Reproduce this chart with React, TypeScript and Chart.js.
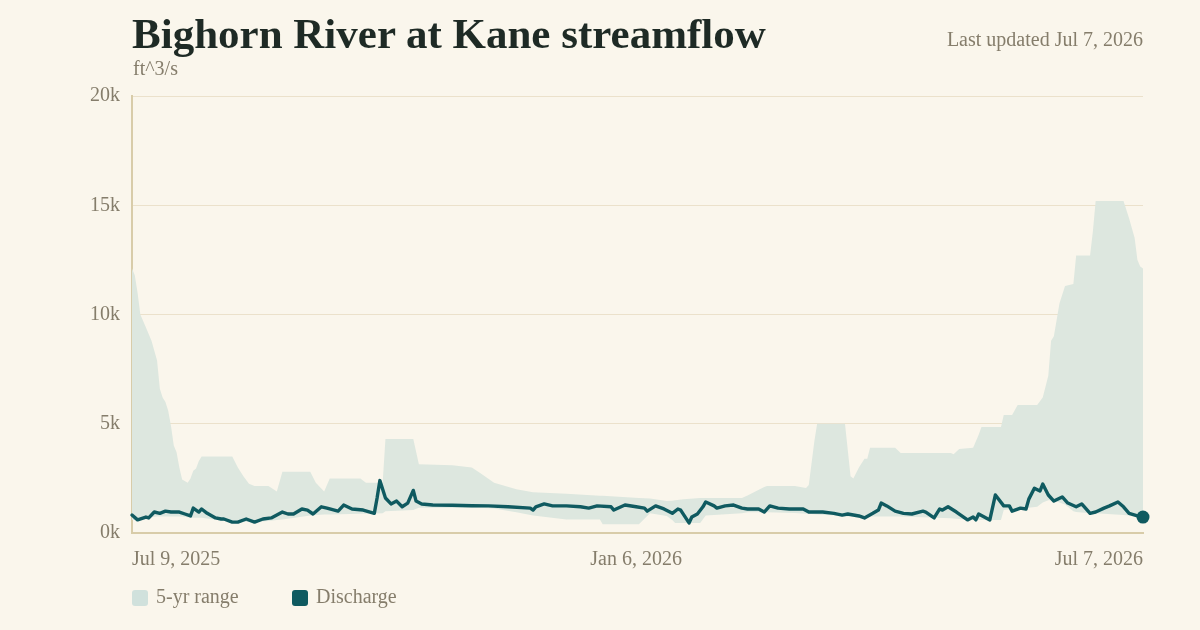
import { useEffect, useRef } from 'react';
import { Chart, registerables } from 'chart.js';

Chart.register(...registerables);

// Day 0 of the x axis
const START_UTC = Date.UTC(2025, 6, 9);
const MONTHS = ['Jan', 'Feb', 'Mar', 'Apr', 'May', 'Jun', 'Jul', 'Aug', 'Sep', 'Oct', 'Nov', 'Dec'];

// 5-year range envelope (days since Jul 9, 2025; ft^3/s)
const rangeDays = [
  0, 1, 2, 3, 5, 7, 9, 10, 11, 12, 13, 14, 15, 16, 17, 18, 20, 21, 22, 23, 24, 25,
  36, 38, 40, 42, 44, 49, 52, 54, 64, 66, 69, 70, 71, 82, 84, 90, 91, 101, 103,
  115, 122, 125, 130, 138, 144, 156, 168, 169, 182, 186, 192, 194, 195, 198, 204,
  206, 219, 221, 227, 228, 238, 242, 243, 245, 246, 256, 257, 258, 259, 261, 263,
  264, 265, 274, 276, 294, 295, 297, 302, 304, 305, 312, 313, 316, 318, 325, 327,
  329, 330, 331, 333, 335, 338, 339, 344, 345, 346, 356, 358, 360, 361, 362, 363,
];
const rangeHigh = [
  12100, 11800, 11000, 10000, 9400, 8800, 7900, 6600, 6200, 6000, 5600, 4900, 4000, 3700, 3000, 2450, 2300, 2500, 2850, 2950, 3300, 3500,
  3500, 3000, 2600, 2250, 2150, 2150, 1900, 2800, 2800, 2300, 1900, 2200, 2500, 2500, 2300, 2300, 4300, 4300, 3150,
  3100, 3000, 2750, 2300, 2000, 1870, 1800, 1700, 1700, 1600, 1580, 1460, 1480, 1500, 1550, 1600,
  1600, 1600, 1720, 2100, 2150, 2150, 2060, 2200, 4200, 5000, 5000, 3800, 2600, 2500, 3000, 3400,
  3400, 3900, 3900, 3660, 3660, 3600, 3850, 3900, 4500, 4850, 4850, 5400, 5400, 5860, 5860, 6200,
  7200, 8800, 9000, 10500, 11300, 11400, 12700, 12700, 13800, 15200, 15200, 14400, 13500, 12500, 12200, 12100,
];
const rangeLow = [
  600, 600, 600, 620, 700, 720, 750, 750, 750, 750, 750, 750, 750, 750, 750, 750, 720, 700, 700, 700, 700, 700,
  500, 500, 500, 500, 500, 550, 600, 620, 800, 820, 850, 850, 850, 880, 880, 900, 1000, 1050, 1150,
  1150, 1150, 1150, 1120, 950, 800, 620, 620, 400, 400, 900, 780, 600, 460, 460, 460,
  800, 900, 950, 950, 950, 920, 880, 880, 860, 850, 780, 750, 750, 750, 750, 750,
  750, 750, 750, 760, 680, 660, 640, 600, 600, 600, 600, 1050, 1100, 1100, 1200, 1400,
  1500, 1500, 1500, 1400, 1300, 1000, 960, 900, 900, 900, 820, 800, 780, 760, 740, 730,
];

// Daily discharge readings (days since Jul 9, 2025; ft^3/s)
const flowDays = [
  0, 2, 5, 6, 8, 10, 12, 14, 17, 19, 21, 22, 24, 25, 27, 30, 32, 33, 36, 38, 41, 44, 47, 50,
  54, 56, 58, 61, 63, 65, 68, 70, 74, 76, 79, 83, 87, 88, 89, 91, 93, 95, 97, 99, 101, 102,
  104, 108, 115, 122, 128, 135, 143, 144, 145, 148, 151, 156, 161, 164, 167, 172, 173, 177,
  181, 184, 185, 188, 191, 194, 196, 197, 200, 201, 203, 205, 206, 209, 210, 213, 216, 219,
  221, 225, 227, 229, 232, 236, 241, 243, 248, 252, 255, 257, 261, 263, 266, 268, 269, 271,
  274, 277, 280, 284, 285, 288, 290, 291, 293, 296, 300, 302, 303, 304, 308, 310, 313, 315,
  316, 319, 321, 322, 324, 326, 327, 329, 331, 334, 336, 339, 341, 344, 346, 349, 351, 354,
  356, 358, 361, 363,
];
const flowCfs = [
  820, 600, 730, 690, 960, 900, 1000, 960, 960, 870, 780, 1140, 960, 1100, 900, 690, 640, 640, 500, 500, 640, 500, 640, 690,
  960, 870, 870, 1100, 1050, 870, 1200, 1140, 1000, 1280, 1100, 1050, 900, 1600, 2400, 1600, 1330, 1460, 1200, 1370, 1950, 1460,
  1330, 1280, 1270, 1250, 1240, 1200, 1140, 1050, 1200, 1330, 1240, 1240, 1200, 1140, 1240, 1200, 1050, 1280,
  1200, 1140, 1000, 1240, 1100, 900, 1100, 1050, 460, 730, 870, 1200, 1420, 1240, 1140, 1240, 1280, 1140,
  1100, 1100, 960, 1240, 1140, 1100, 1100, 960, 960, 900, 820, 870, 780, 690, 900, 1050, 1370, 1240,
  1000, 900, 870, 1000, 960, 690, 1100, 1050, 1200, 960, 600, 730, 600, 870, 600, 1740, 1240, 1240,
  1000, 1140, 1100, 1550, 2050, 1920, 2240, 1740, 1460, 1650, 1370, 1200, 1330, 900, 960, 1140, 1240, 1420,
  1200, 900, 780, 730,
];

const xTickDays = [0, 181, 363];
const yTickValues = [0, 5000, 10000, 15000, 20000];

const BG = '#faf6ec';
const INK = '#1e2a25';
const MUTED = '#857d6b';
const GRID = '#ebe1cb';
const AXIS = '#d8cca9';
const BAND = '#dde7df';
const BAND_KEY = '#d0e1dc';
const FLOW = '#0f5a60';
const SERIF = "'Liberation Serif', 'DejaVu Serif', serif";

function formatDay(day: number): string {
  const d = new Date(START_UTC + day * 86400000);
  return `${MONTHS[d.getUTCMonth()]} ${d.getUTCDate()}, ${d.getUTCFullYear()}`;
}

export default function App() {
  const canvasRef = useRef<HTMLCanvasElement>(null);

  useEffect(() => {
    document.body.style.margin = '0';
    const canvas = canvasRef.current;
    if (!canvas) return;

    const lastIndex = flowDays.length - 1;
    const chart = new Chart(canvas, {
      type: 'line',
      data: {
        datasets: [
          {
            label: 'Discharge',
            data: flowDays.map((d, i) => ({ x: d, y: flowCfs[i] })),
            borderColor: FLOW,
            borderWidth: 3.4,
            borderJoinStyle: 'round',
            borderCapStyle: 'round',
            pointRadius: (c: any) => (c.dataIndex === lastIndex ? 6.5 : 0),
            pointBackgroundColor: FLOW,
            pointBorderWidth: 0,
            tension: 0,
            fill: false,
            clip: false,
          } as any,
          {
            label: '5-yr range',
            data: rangeDays.map((d, i) => ({ x: d, y: rangeHigh[i] })),
            borderWidth: 0,
            pointRadius: 0,
            backgroundColor: BAND,
            fill: '+1',
            tension: 0,
          },
          {
            label: '5-yr low',
            data: rangeDays.map((d, i) => ({ x: d, y: rangeLow[i] })),
            borderWidth: 0,
            pointRadius: 0,
            fill: false,
            tension: 0,
          },
        ],
      },
      options: {
        animation: false,
        responsive: false,
        maintainAspectRatio: false,
        layout: { padding: { top: 96, right: 57, left: 0, bottom: 0 } },
        plugins: {
          legend: { display: false },
          tooltip: { enabled: false },
          title: { display: false },
        },
        scales: {
          x: {
            type: 'linear',
            min: 0,
            max: 363,
            afterBuildTicks: (s: any) => {
              s.ticks = xTickDays.map((v) => ({ value: v }));
            },
            afterFit: (s: any) => {
              s.height = 97;
            },
            grid: { display: false, drawTicks: false },
            border: { display: true, color: AXIS, width: 2 },
            ticks: {
              align: 'inner',
              padding: 15,
              maxRotation: 0,
              autoSkip: false,
              color: MUTED,
              font: { family: SERIF, size: 20 },
              callback: (v: any) => formatDay(Number(v)),
            },
          },
          y: {
            min: 0,
            max: 20000,
            afterBuildTicks: (s: any) => {
              s.ticks = yTickValues.map((v) => ({ value: v }));
            },
            afterFit: (s: any) => {
              s.width = 132;
            },
            grid: { color: GRID, lineWidth: 1, drawTicks: false },
            border: { display: true, color: AXIS, width: 2 },
            ticks: {
              padding: 12,
              color: MUTED,
              font: { family: SERIF, size: 20 },
              callback: (v: any) => `${Number(v) / 1000}k`,
            },
          },
        },
      } as any,
    });

    return () => chart.destroy();
  }, []);

  const swatch = (color: string, left: number) => (
    <div
      style={{
        position: 'absolute',
        left,
        top: 590,
        width: 16,
        height: 16,
        borderRadius: 3,
        background: color,
      }}
    />
  );

  return (
    <div
      style={{
        position: 'relative',
        width: 1200,
        height: 630,
        background: BG,
        overflow: 'hidden',
        fontFamily: SERIF,
      }}
    >
      <canvas
        ref={canvasRef}
        width={1200}
        height={630}
        style={{ position: 'absolute', left: 0, top: 0, width: 1200, height: 630 }}
      />
      <div
        style={{
          position: 'absolute',
          left: 132,
          top: 12,
          fontSize: 43,
          lineHeight: '43px',
          fontWeight: 700,
          color: INK,
          whiteSpace: 'nowrap',
        }}
      >
        Bighorn River at Kane streamflow
      </div>
      <div
        style={{
          position: 'absolute',
          left: 133,
          top: 58,
          fontSize: 20,
          lineHeight: '20px',
          color: MUTED,
          whiteSpace: 'nowrap',
        }}
      >
        ft^3/s
      </div>
      <div
        style={{
          position: 'absolute',
          right: 57,
          top: 29,
          fontSize: 20,
          lineHeight: '20px',
          color: MUTED,
          whiteSpace: 'nowrap',
        }}
      >
        Last updated Jul 7, 2026
      </div>
      {swatch(BAND_KEY, 132)}
      <div
        style={{
          position: 'absolute',
          left: 156,
          top: 586,
          fontSize: 20,
          lineHeight: '20px',
          color: MUTED,
          whiteSpace: 'nowrap',
        }}
      >
        5-yr range
      </div>
      {swatch(FLOW, 292)}
      <div
        style={{
          position: 'absolute',
          left: 316,
          top: 586,
          fontSize: 20,
          lineHeight: '20px',
          color: MUTED,
          whiteSpace: 'nowrap',
        }}
      >
        Discharge
      </div>
    </div>
  );
}
